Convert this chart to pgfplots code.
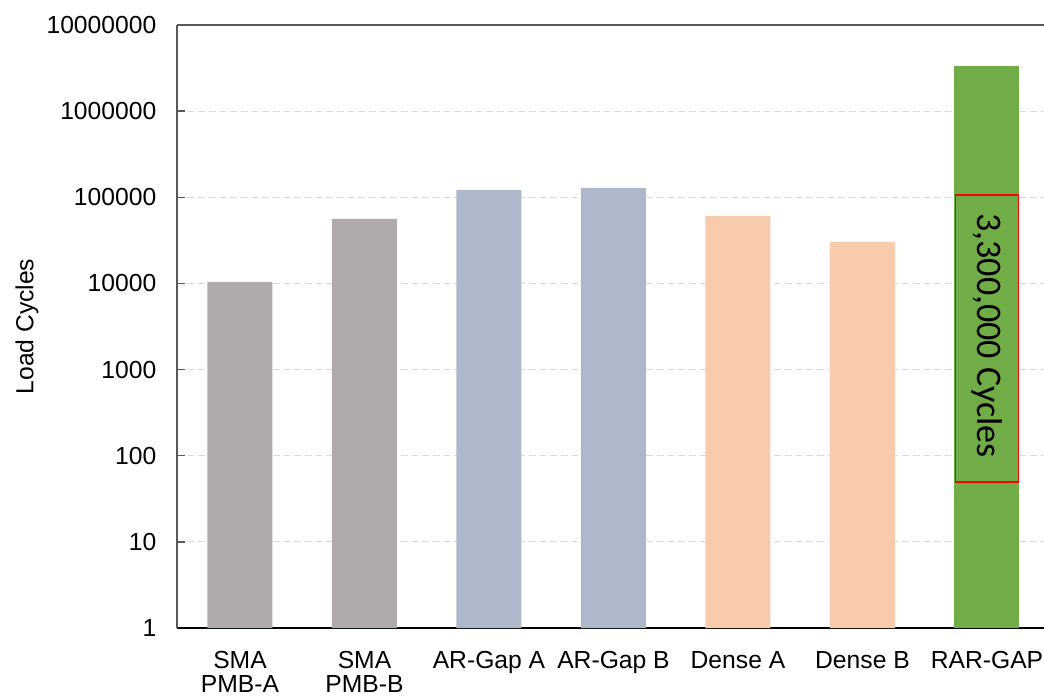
\documentclass[border=0pt]{standalone}
\usepackage{pgfplots}
\pgfplotsset{compat=1.18}
\usepackage{fontspec}
\setmainfont{Liberation Sans}
\newfontfamily\calibri{Carlito}
\definecolor{cgray}{RGB}{174,170,170}
\definecolor{cblue}{RGB}{173,185,202}
\definecolor{cpeach}{RGB}{248,203,173}
\definecolor{cgreen}{RGB}{112,173,71}
\definecolor{axgray}{RGB}{89,89,89}
\begin{document}
\begin{tikzpicture}
\begin{axis}[name=ax,
  scale only axis, width=650.25pt, height=452.25pt,
  ymode=log, ymin=1, ymax=1e7,
  xmin=-0.506, xmax=6.458,
  axis x line=bottom, axis y line=left,
  x axis line style={-, black, line width=0.8pt},
  y axis line style={-, axgray, line width=1.2pt},
  xtick={0,1,2,3,4,5,6},
  xticklabels={{SMA\\PMB-A},{SMA\\PMB-B},{AR-Gap A},{AR-Gap B},{Dense A},{Dense B},{RAR-GAP}},
  xtick style={draw=none},
  xticklabel style={align=center, font=\fontsize{18.5}{18}\selectfont, yshift=-14pt},
  ytick={1,10,100,1000,10000,100000,1000000,10000000},
  yticklabels={1,10,100,1000,10000,100000,1000000,10000000},
  yminorticks=false,
  tick align=inside, major tick length=6pt,
  ytick style={axgray, line width=1pt},
  yticklabel style={font=\fontsize{18.5}{20}\selectfont, xshift=-12pt},
  /pgf/number format/assume math mode=true,
  ymajorgrids, grid style={gray!30, line width=0.8pt, dash pattern=on 5pt off 3pt},
  clip=false,
]
\addplot[ybar, bar shift=0pt, bar width=48.75pt, fill=cgray, draw=none] coordinates {(0,10400) (1,56000)};
\addplot[ybar, bar shift=0pt, bar width=48.75pt, fill=cblue, draw=none] coordinates {(2,122000) (3,129000)};
\addplot[ybar, bar shift=0pt, bar width=48.75pt, fill=cpeach, draw=none] coordinates {(4,61000) (5,30400)};
\addplot[ybar, bar shift=0pt, bar width=48.75pt, fill=cgreen, draw=none] coordinates {(6,3300000)};
\draw[axgray, line width=1.2pt] (rel axis cs:0,1) -- (rel axis cs:1,1);
\draw[red, line width=1.3pt] (axis cs:5.747,49.5) rectangle (axis cs:6.253,106000);
\node[rotate=-90, font=\calibri\fontsize{27}{30}\selectfont] at (axis cs:6,2490) {3,300,000 Cycles};
\end{axis}
\node[rotate=90, font=\fontsize{18.5}{20}\selectfont] at ([xshift=-112.5pt]ax.west) {Load Cycles};
\pgfresetboundingbox
\path ([xshift=-132.75pt,yshift=-51.75pt]ax.south west) rectangle ([yshift=18.75pt]ax.north east);
\end{tikzpicture}
\end{document}
